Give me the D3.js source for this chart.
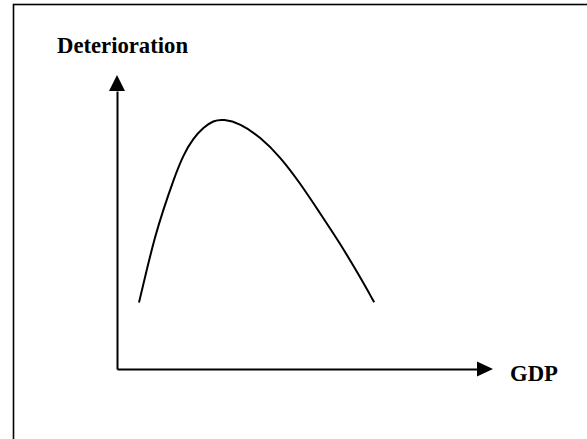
<!DOCTYPE html>
<html>
<head>
<meta charset="utf-8">
<script src="https://cdn.jsdelivr.net/npm/d3@7"></script>
<style>
  body { margin: 0; background: #fff; }
  svg { display: block; }
  text { font-family: "Liberation Serif", "Times New Roman", serif; font-weight: bold; }
</style>
</head>
<body>
<div id="chart"></div>
<script>
// curve (arbitrary units, 0-100 on both axes)
var gdp = [5.85, 7.9, 10.1, 12.3, 15.0, 17.6, 20.3, 23.0, 25.6, 28.3, 32.7, 38.0, 43.4, 48.7, 54.0, 59.3, 64.6, 68.4];
var deterioration = [22.6, 33.7, 45.0, 54.1, 64.3, 72.8, 78.5, 82.2, 84.5, 85.0, 83.6, 79.0, 72.2, 63.2, 53.0, 42.8, 31.4, 22.7];
var xLabel = "GDP";
var yLabel = "Deterioration";

var width = 587, height = 439;

var svg = d3.select("#chart")
  .append("svg")
  .attr("width", width)
  .attr("height", height);

// frame (cut off on the right and bottom like the source)
svg.append("rect")
  .attr("x", 13.5).attr("y", 4.5)
  .attr("width", 700).attr("height", 600)
  .attr("fill", "none")
  .attr("stroke", "#000")
  .attr("stroke-width", 1.6);

// scales
var x = d3.scaleLinear().domain([0, 100]).range([117, 493]);
var y = d3.scaleLinear().domain([0, 100]).range([369, 75]);

var arrow = 16; // arrow head length

// axes without ticks, just the line
svg.append("g")
  .attr("transform", "translate(0," + y(0) + ")")
  .call(d3.axisBottom(d3.scaleLinear().range([x(0), x(100) - arrow])).tickValues([]).tickSizeOuter(0));
svg.append("g")
  .attr("transform", "translate(" + x(0) + ",0)")
  .call(d3.axisLeft(d3.scaleLinear().range([y(0), y(100) + arrow])).tickValues([]).tickSizeOuter(0));

svg.selectAll(".domain")
  .attr("stroke", "#000")
  .attr("stroke-width", 2);

// arrow heads
svg.append("path")
  .attr("d", "M" + x(100) + "," + y(0) + "L" + (x(100) - arrow) + "," + (y(0) - 7.5) + "L" + (x(100) - arrow) + "," + (y(0) + 7.5) + "Z")
  .attr("fill", "#000");
svg.append("path")
  .attr("d", "M" + x(0) + "," + y(100) + "L" + (x(0) - 8) + "," + (y(100) + arrow) + "L" + (x(0) + 8) + "," + (y(100) + arrow) + "Z")
  .attr("fill", "#000");

// the curve (basis spline smooths out reading noise)
var line = d3.line()
  .x(function(d, i) { return x(gdp[i]); })
  .y(function(d, i) { return y(deterioration[i]); })
  .curve(d3.curveBasis);

svg.append("path")
  .datum(gdp)
  .attr("d", line)
  .attr("fill", "none")
  .attr("stroke", "#000")
  .attr("stroke-width", 2);

// labels
svg.append("text")
  .attr("x", 57).attr("y", 53)
  .style("font-size", "22.7px")
  .text(yLabel);

svg.append("text")
  .attr("x", 510).attr("y", 381)
  .style("font-size", "22.7px")
  .text(xLabel);
</script>
</body>
</html>
